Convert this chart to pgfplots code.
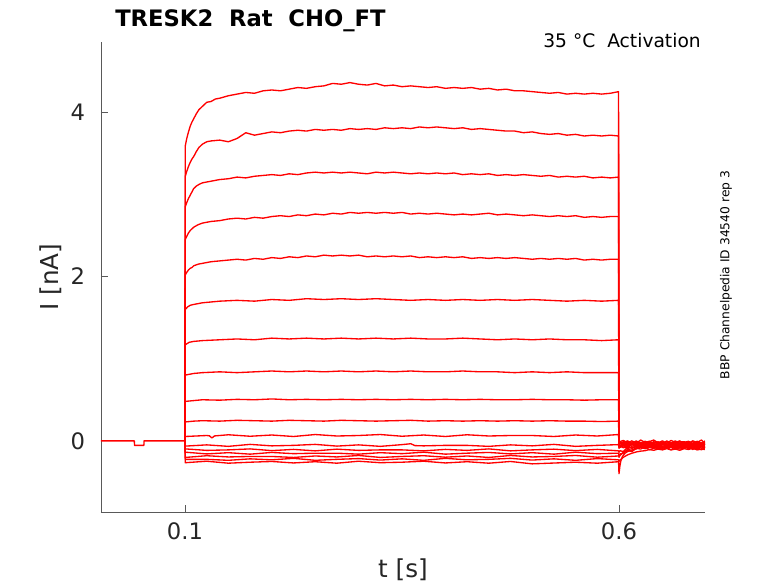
\documentclass[border=0pt]{standalone}
\usepackage{fontspec}
\setmainfont{DejaVu Sans}
\usepackage{pgfplots}
\pgfplotsset{compat=1.18}
\definecolor{axgray}{RGB}{38,38,38}
\begin{document}
\begin{tikzpicture}
\useasboundingbox (-75.75pt,-53.25pt) rectangle (507.75pt,384pt);
\begin{axis}[
  at={(0,0)}, anchor=south west,
  scale only axis, width=453pt, height=352.5pt,
  xmin=0.0032, xmax=0.6991, ymin=-0.866, ymax=4.854,
  axis x line*=bottom, axis y line*=left,
  axis line style={-, black!65, line width=0.6pt},
  xtick={0.1,0.6}, ytick={0,2,4},
  xticklabels={0.1,0.6},
  tick align=inside, major tick length=5.5pt,
  tick style={black!65, line width=0.6pt},
  /pgf/number format/assume math mode=true,
  ticklabel style={font=\fontsize{17}{19}\selectfont, text=axgray},
  xticklabel style={yshift=-4.8pt},
  yticklabel style={xshift=-8.5pt},
  xlabel={t [s]}, ylabel={I [nA]},
  label style={font=\fontsize{18.5}{20}\selectfont, text=axgray},
  xlabel style={at={(axis description cs:0.5,-0.1383)}, anchor=base},
  ylabel style={at={(axis description cs:-0.0706,0.5)}, anchor=base},
  every axis title shift=0pt,
  title={TRESK2\ \ Rat\ \ CHO\_FT},
  title style={at={(axis description cs:0.0232,1.0326)}, anchor=base west, inner xsep=0pt, font=\bfseries\fontsize{17}{19}\selectfont},
  tr/.style={red, line width=1pt, line join=round, mark=none},
]
% holding before the step
\addplot[tr] coordinates {(0.0032,0)(0.0416,0)(0.0418,-0.055)(0.0526,-0.055)(0.0528,0)(0.1,0)};
% T1
\addplot[tr] coordinates {(0.1,0)(0.1003,3.59)(0.102,3.68)(0.104,3.76)(0.106,3.83)(0.108,3.88)(0.11,3.92)(0.113,3.98)(0.116,4.03)(0.12,4.07)(0.125,4.12)(0.13,4.13)(0.135,4.16)(0.14,4.17)(0.15,4.20)(0.16,4.22)(0.17,4.24)(0.18,4.23)(0.19,4.26)(0.20,4.27)(0.21,4.26)(0.22,4.28)(0.23,4.30)(0.24,4.29)(0.25,4.31)(0.26,4.32)(0.27,4.35)(0.28,4.34)(0.29,4.36)(0.30,4.34)(0.31,4.33)(0.32,4.35)(0.33,4.32)(0.34,4.33)(0.35,4.31)(0.36,4.32)(0.37,4.31)(0.38,4.30)(0.39,4.31)(0.40,4.29)(0.41,4.30)(0.42,4.29)(0.43,4.30)(0.44,4.28)(0.45,4.29)(0.46,4.27)(0.47,4.28)(0.48,4.26)(0.49,4.26)(0.50,4.25)(0.51,4.24)(0.52,4.23)(0.53,4.24)(0.54,4.22)(0.55,4.23)(0.56,4.22)(0.57,4.23)(0.58,4.22)(0.59,4.23)(0.5995,4.25)
(0.6,-0.02)(0.601,-0.02)(0.605,-0.04)(0.61,-0.01)(0.615,-0.03)(0.62,0.0)(0.625,-0.04)(0.63,-0.02)(0.635,-0.005)(0.64,-0.035)(0.645,-0.01)(0.65,-0.04)(0.655,0.0)(0.66,-0.03)(0.665,-0.02)(0.67,0.0)(0.675,-0.035)(0.68,-0.01)(0.685,-0.04)(0.69,-0.005)(0.695,-0.03)(0.699,-0.02)};
% T2
\addplot[tr] coordinates {(0.1,0)(0.1003,3.22)(0.102,3.28)(0.104,3.34)(0.106,3.39)(0.108,3.43)(0.11,3.46)(0.113,3.52)(0.116,3.57)(0.12,3.61)(0.125,3.64)(0.13,3.65)(0.14,3.66)(0.15,3.64)(0.16,3.68)(0.17,3.75)(0.18,3.72)(0.19,3.74)(0.20,3.76)(0.21,3.75)(0.22,3.77)(0.23,3.78)(0.24,3.77)(0.25,3.79)(0.26,3.78)(0.27,3.79)(0.28,3.78)(0.29,3.80)(0.30,3.79)(0.31,3.80)(0.32,3.79)(0.33,3.81)(0.34,3.80)(0.35,3.81)(0.36,3.80)(0.37,3.82)(0.38,3.81)(0.39,3.82)(0.40,3.81)(0.41,3.80)(0.42,3.81)(0.43,3.79)(0.44,3.80)(0.45,3.79)(0.46,3.78)(0.47,3.77)(0.48,3.77)(0.49,3.75)(0.50,3.76)(0.51,3.74)(0.52,3.73)(0.53,3.74)(0.54,3.72)(0.55,3.73)(0.56,3.71)(0.57,3.72)(0.58,3.71)(0.59,3.72)(0.5995,3.71)
(0.6,-0.03)(0.601,-0.04)(0.605,-0.01)(0.61,-0.05)(0.615,-0.03)(0.62,-0.015)(0.625,-0.045)(0.63,-0.02)(0.635,-0.05)(0.64,-0.01)(0.645,-0.04)(0.65,-0.03)(0.655,-0.01)(0.66,-0.045)(0.665,-0.02)(0.67,-0.05)(0.675,-0.015)(0.68,-0.04)(0.685,-0.03)(0.69,-0.03)(0.695,-0.05)(0.699,-0.02)};
% T3
\addplot[tr] coordinates {(0.1,0)(0.1003,2.85)(0.102,2.90)(0.104,2.95)(0.106,2.99)(0.108,3.03)(0.11,3.07)(0.113,3.10)(0.116,3.12)(0.12,3.14)(0.125,3.15)(0.13,3.16)(0.14,3.18)(0.15,3.19)(0.16,3.21)(0.17,3.20)(0.18,3.22)(0.19,3.23)(0.20,3.24)(0.21,3.23)(0.22,3.25)(0.23,3.24)(0.24,3.26)(0.25,3.27)(0.26,3.26)(0.27,3.27)(0.28,3.26)(0.29,3.27)(0.30,3.26)(0.31,3.25)(0.32,3.27)(0.33,3.26)(0.34,3.27)(0.35,3.26)(0.36,3.25)(0.37,3.26)(0.38,3.25)(0.39,3.26)(0.40,3.25)(0.41,3.26)(0.42,3.24)(0.43,3.25)(0.44,3.24)(0.45,3.25)(0.46,3.23)(0.47,3.24)(0.48,3.23)(0.49,3.24)(0.50,3.23)(0.51,3.22)(0.52,3.23)(0.53,3.21)(0.54,3.22)(0.55,3.21)(0.56,3.22)(0.57,3.20)(0.58,3.21)(0.59,3.20)(0.5995,3.21)
(0.6,-0.01)(0.601,-0.01)(0.605,0.005)(0.61,-0.025)(0.615,0.0)(0.62,-0.03)(0.625,0.01)(0.63,-0.02)(0.635,-0.01)(0.64,0.01)(0.645,-0.025)(0.65,0.0)(0.655,-0.03)(0.66,0.005)(0.665,-0.02)(0.67,-0.01)(0.675,-0.01)(0.68,-0.03)(0.685,0.0)(0.69,-0.02)(0.695,0.01)(0.699,-0.03)};
% T4
\addplot[tr] coordinates {(0.1,0)(0.1003,2.45)(0.102,2.49)(0.104,2.53)(0.106,2.56)(0.108,2.58)(0.11,2.60)(0.115,2.63)(0.12,2.65)(0.13,2.67)(0.14,2.68)(0.15,2.70)(0.16,2.71)(0.17,2.70)(0.18,2.72)(0.19,2.71)(0.20,2.73)(0.21,2.74)(0.22,2.73)(0.23,2.75)(0.24,2.74)(0.25,2.76)(0.26,2.75)(0.27,2.77)(0.28,2.76)(0.29,2.78)(0.30,2.77)(0.31,2.78)(0.32,2.77)(0.33,2.78)(0.34,2.77)(0.35,2.78)(0.36,2.76)(0.37,2.77)(0.38,2.76)(0.39,2.77)(0.40,2.76)(0.41,2.75)(0.42,2.76)(0.43,2.75)(0.44,2.76)(0.45,2.77)(0.46,2.75)(0.47,2.76)(0.48,2.75)(0.49,2.74)(0.50,2.75)(0.51,2.74)(0.52,2.73)(0.53,2.74)(0.54,2.73)(0.55,2.74)(0.56,2.72)(0.57,2.73)(0.58,2.72)(0.59,2.73)(0.5995,2.73)
(0.6,-0.04)(0.601,-0.03)(0.605,-0.06)(0.61,-0.02)(0.615,-0.05)(0.62,-0.04)(0.625,-0.02)(0.63,-0.055)(0.635,-0.03)(0.64,-0.06)(0.645,-0.025)(0.65,-0.05)(0.655,-0.04)(0.66,-0.04)(0.665,-0.06)(0.67,-0.03)(0.675,-0.05)(0.68,-0.02)(0.685,-0.06)(0.69,-0.04)(0.695,-0.025)(0.699,-0.055)};
% T5
\addplot[tr] coordinates {(0.1,0)(0.1003,2.02)(0.102,2.05)(0.104,2.08)(0.106,2.10)(0.108,2.11)(0.11,2.13)(0.115,2.15)(0.12,2.16)(0.13,2.18)(0.14,2.19)(0.15,2.20)(0.16,2.21)(0.17,2.20)(0.18,2.22)(0.19,2.21)(0.20,2.23)(0.21,2.22)(0.22,2.24)(0.23,2.23)(0.24,2.25)(0.25,2.24)(0.26,2.26)(0.27,2.25)(0.28,2.26)(0.29,2.25)(0.30,2.26)(0.31,2.24)(0.32,2.25)(0.33,2.24)(0.34,2.25)(0.35,2.24)(0.36,2.25)(0.37,2.23)(0.38,2.24)(0.39,2.23)(0.40,2.24)(0.41,2.23)(0.42,2.24)(0.43,2.22)(0.44,2.23)(0.45,2.22)(0.46,2.23)(0.47,2.22)(0.48,2.23)(0.49,2.22)(0.50,2.21)(0.51,2.22)(0.52,2.21)(0.53,2.22)(0.54,2.21)(0.55,2.22)(0.56,2.20)(0.57,2.21)(0.58,2.20)(0.59,2.21)(0.5995,2.21)
(0.6,-0.02)(0.601,-0.03)(0.605,-0.02)(0.61,0.0)(0.615,-0.035)(0.62,-0.01)(0.625,-0.04)(0.63,-0.005)(0.635,-0.03)(0.64,-0.02)(0.645,-0.02)(0.65,-0.04)(0.655,-0.01)(0.66,-0.03)(0.665,0.0)(0.67,-0.04)(0.675,-0.02)(0.68,-0.005)(0.685,-0.035)(0.69,-0.01)(0.695,-0.04)(0.699,0.0)};
% T6
\addplot[tr] coordinates {(0.1,0)(0.1003,1.60)(0.103,1.63)(0.106,1.65)(0.11,1.66)(0.12,1.68)(0.13,1.69)(0.14,1.70)(0.16,1.71)(0.18,1.70)(0.20,1.72)(0.22,1.71)(0.24,1.73)(0.26,1.72)(0.28,1.73)(0.30,1.72)(0.32,1.73)(0.34,1.72)(0.36,1.71)(0.38,1.72)(0.40,1.71)(0.42,1.72)(0.44,1.71)(0.46,1.72)(0.48,1.71)(0.50,1.72)(0.52,1.71)(0.54,1.70)(0.56,1.71)(0.58,1.70)(0.5995,1.71)
(0.6,-0.05)(0.601,-0.065)(0.605,-0.04)(0.61,-0.07)(0.615,-0.035)(0.62,-0.06)(0.625,-0.05)(0.63,-0.05)(0.635,-0.07)(0.64,-0.04)(0.645,-0.06)(0.65,-0.03)(0.655,-0.07)(0.66,-0.05)(0.665,-0.035)(0.67,-0.065)(0.675,-0.04)(0.68,-0.07)(0.685,-0.03)(0.69,-0.06)(0.695,-0.05)(0.699,-0.03)};
% T7
\addplot[tr] coordinates {(0.1,0)(0.1003,1.17)(0.105,1.20)(0.11,1.21)(0.12,1.22)(0.14,1.23)(0.16,1.24)(0.18,1.23)(0.20,1.25)(0.22,1.24)(0.24,1.25)(0.26,1.24)(0.28,1.25)(0.30,1.24)(0.32,1.25)(0.34,1.24)(0.36,1.25)(0.38,1.24)(0.40,1.24)(0.42,1.25)(0.44,1.24)(0.46,1.23)(0.48,1.24)(0.50,1.23)(0.52,1.24)(0.54,1.23)(0.56,1.23)(0.58,1.22)(0.5995,1.23)
(0.6,-0.03)(0.601,-0.015)(0.605,-0.04)(0.61,-0.03)(0.615,-0.03)(0.62,-0.05)(0.625,-0.02)(0.63,-0.04)(0.635,-0.01)(0.64,-0.05)(0.645,-0.03)(0.65,-0.015)(0.655,-0.045)(0.66,-0.02)(0.665,-0.05)(0.67,-0.01)(0.675,-0.04)(0.68,-0.03)(0.685,-0.01)(0.69,-0.045)(0.695,-0.02)(0.699,-0.05)};
% T8
\addplot[tr] coordinates {(0.1,0)(0.1003,0.80)(0.105,0.81)(0.11,0.82)(0.12,0.83)(0.14,0.84)(0.16,0.83)(0.18,0.84)(0.20,0.85)(0.22,0.84)(0.24,0.85)(0.26,0.84)(0.28,0.85)(0.30,0.84)(0.32,0.85)(0.34,0.84)(0.36,0.85)(0.38,0.84)(0.40,0.84)(0.42,0.85)(0.44,0.84)(0.46,0.84)(0.48,0.83)(0.50,0.84)(0.52,0.83)(0.54,0.84)(0.56,0.83)(0.58,0.83)(0.5995,0.83)
(0.6,-0.06)(0.601,-0.08)(0.605,-0.05)(0.61,-0.07)(0.615,-0.04)(0.62,-0.08)(0.625,-0.06)(0.63,-0.045)(0.635,-0.075)(0.64,-0.05)(0.645,-0.08)(0.65,-0.04)(0.655,-0.07)(0.66,-0.06)(0.665,-0.04)(0.67,-0.075)(0.675,-0.05)(0.68,-0.08)(0.685,-0.045)(0.69,-0.07)(0.695,-0.06)(0.699,-0.06)};
% T9
\addplot[tr] coordinates {(0.1,0)(0.1003,0.48)(0.11,0.49)(0.12,0.50)(0.14,0.495)(0.16,0.505)(0.18,0.50)(0.20,0.51)(0.22,0.50)(0.24,0.505)(0.26,0.50)(0.28,0.505)(0.30,0.50)(0.32,0.505)(0.34,0.50)(0.36,0.505)(0.38,0.50)(0.40,0.505)(0.42,0.50)(0.44,0.505)(0.46,0.50)(0.48,0.50)(0.50,0.505)(0.52,0.50)(0.54,0.50)(0.56,0.495)(0.58,0.50)(0.5995,0.50)
(0.6,-0.04)(0.601,-0.02)(0.605,-0.06)(0.61,-0.04)(0.615,-0.025)(0.62,-0.055)(0.625,-0.03)(0.63,-0.06)(0.635,-0.02)(0.64,-0.05)(0.645,-0.04)(0.65,-0.02)(0.655,-0.055)(0.66,-0.03)(0.665,-0.06)(0.67,-0.025)(0.675,-0.05)(0.68,-0.04)(0.685,-0.04)(0.69,-0.06)(0.695,-0.03)(0.699,-0.05)};
% T10
\addplot[tr] coordinates {(0.1,0)(0.1003,0.23)(0.11,0.24)(0.12,0.245)(0.14,0.24)(0.16,0.25)(0.18,0.245)(0.20,0.24)(0.22,0.25)(0.24,0.245)(0.26,0.24)(0.28,0.25)(0.30,0.245)(0.32,0.24)(0.34,0.245)(0.36,0.25)(0.38,0.24)(0.40,0.245)(0.42,0.24)(0.44,0.245)(0.46,0.24)(0.48,0.245)(0.50,0.24)(0.52,0.245)(0.54,0.24)(0.56,0.24)(0.58,0.235)(0.5995,0.24)
(0.6,-0.07)(0.601,-0.055)(0.605,-0.085)(0.61,-0.06)(0.615,-0.09)(0.62,-0.05)(0.625,-0.08)(0.63,-0.07)(0.635,-0.05)(0.64,-0.085)(0.645,-0.06)(0.65,-0.09)(0.655,-0.055)(0.66,-0.08)(0.665,-0.07)(0.67,-0.07)(0.675,-0.09)(0.68,-0.06)(0.685,-0.08)(0.69,-0.05)(0.695,-0.09)(0.699,-0.07)};
% T11
\addplot[tr] coordinates {(0.1,0)(0.1003,0.053)(0.125,0.065)(0.128,0.062)(0.131,0.035)(0.134,0.06)(0.15,0.074)(0.175,0.056)(0.2,0.071)(0.225,0.053)(0.25,0.077)(0.275,0.059)(0.3,0.065)(0.325,0.077)(0.35,0.056)(0.375,0.071)(0.4,0.053)(0.425,0.074)(0.45,0.059)(0.475,0.065)(0.5,0.065)(0.525,0.053)(0.55,0.071)(0.575,0.059)(0.5995,0.077)
(0.6,-0.06)(0.601,-0.07)(0.605,-0.03)(0.61,-0.06)(0.615,-0.05)(0.62,-0.03)(0.625,-0.065)(0.63,-0.04)(0.635,-0.07)(0.64,-0.035)(0.645,-0.06)(0.65,-0.05)(0.655,-0.05)(0.66,-0.07)(0.665,-0.04)(0.67,-0.06)(0.675,-0.03)(0.68,-0.07)(0.685,-0.05)(0.69,-0.035)(0.695,-0.065)(0.699,-0.04)};
% T12
\addplot[tr] coordinates {(0.1,0)(0.1003,-0.064)(0.125,-0.049)(0.15,-0.067)(0.175,-0.043)(0.2,-0.061)(0.225,-0.055)(0.25,-0.043)(0.275,-0.064)(0.3,-0.049)(0.325,-0.067)(0.35,-0.046)(0.36,-0.035)(0.365,-0.058)(0.375,-0.061)(0.4,-0.055)(0.425,-0.055)(0.45,-0.067)(0.475,-0.049)(0.5,-0.061)(0.525,-0.043)(0.55,-0.067)(0.575,-0.055)(0.5995,-0.046)
(0.6,-0.09)(0.601,-0.08)(0.605,-0.06)(0.61,-0.095)(0.615,-0.07)(0.62,-0.10)(0.625,-0.065)(0.63,-0.09)(0.635,-0.08)(0.64,-0.08)(0.645,-0.10)(0.65,-0.07)(0.655,-0.09)(0.66,-0.06)(0.665,-0.10)(0.67,-0.08)(0.675,-0.065)(0.68,-0.095)(0.685,-0.07)(0.69,-0.10)(0.695,-0.06)(0.699,-0.09)};
% T13
\addplot[tr] coordinates {(0.1,0)(0.1003,-0.098)(0.125,-0.116)(0.15,-0.11)(0.175,-0.098)(0.2,-0.119)(0.225,-0.104)(0.25,-0.122)(0.275,-0.101)(0.3,-0.116)(0.325,-0.11)(0.35,-0.11)(0.375,-0.122)(0.4,-0.104)(0.425,-0.116)(0.45,-0.098)(0.475,-0.122)(0.5,-0.11)(0.525,-0.101)(0.55,-0.119)(0.575,-0.104)(0.5995,-0.122)
(0.6,-0.14)(0.601,-0.12)(0.605,-0.13)(0.61,-0.075)(0.615,-0.09)(0.62,-0.07)(0.625,-0.06)(0.63,-0.08)(0.635,-0.05)(0.64,-0.07)(0.645,-0.04)(0.65,-0.08)(0.655,-0.06)(0.66,-0.045)(0.665,-0.075)(0.67,-0.05)(0.675,-0.08)(0.68,-0.04)(0.685,-0.07)(0.69,-0.06)(0.695,-0.04)(0.699,-0.075)};
% T14
\addplot[tr] coordinates {(0.1,0)(0.1003,-0.138)(0.125,-0.159)(0.15,-0.144)(0.175,-0.162)(0.2,-0.141)(0.225,-0.156)(0.25,-0.15)(0.275,-0.15)(0.3,-0.162)(0.325,-0.144)(0.35,-0.156)(0.375,-0.138)(0.4,-0.162)(0.425,-0.15)(0.45,-0.141)(0.475,-0.159)(0.5,-0.144)(0.525,-0.162)(0.55,-0.138)(0.575,-0.156)(0.5995,-0.15)
(0.6,-0.20)(0.601,-0.18)(0.605,-0.14)(0.61,-0.12)(0.615,-0.13)(0.62,-0.09)(0.625,-0.10)(0.63,-0.07)(0.635,-0.11)(0.64,-0.09)(0.645,-0.075)(0.65,-0.105)(0.655,-0.08)(0.66,-0.11)(0.665,-0.07)(0.67,-0.10)(0.675,-0.09)(0.68,-0.07)(0.685,-0.105)(0.69,-0.08)(0.695,-0.11)(0.699,-0.075)};
% T15
\addplot[tr] coordinates {(0.1,0)(0.1003,-0.202)(0.125,-0.181)(0.15,-0.196)(0.175,-0.19)(0.2,-0.19)(0.225,-0.202)(0.25,-0.184)(0.275,-0.196)(0.3,-0.178)(0.325,-0.202)(0.35,-0.19)(0.375,-0.181)(0.4,-0.199)(0.425,-0.184)(0.45,-0.202)(0.475,-0.178)(0.5,-0.196)(0.525,-0.19)(0.55,-0.178)(0.575,-0.199)(0.5995,-0.184)
(0.6,-0.18)(0.601,-0.16)(0.605,-0.15)(0.61,-0.10)(0.615,-0.12)(0.62,-0.09)(0.625,-0.065)(0.63,-0.085)(0.635,-0.06)(0.64,-0.09)(0.645,-0.05)(0.65,-0.08)(0.655,-0.07)(0.66,-0.05)(0.665,-0.085)(0.67,-0.06)(0.675,-0.09)(0.68,-0.055)(0.685,-0.08)(0.69,-0.07)(0.695,-0.07)(0.699,-0.09)};
% T16
\addplot[tr] coordinates {(0.1,0)(0.1003,-0.225)(0.125,-0.225)(0.15,-0.237)(0.175,-0.219)(0.2,-0.231)(0.225,-0.213)(0.25,-0.237)(0.275,-0.225)(0.3,-0.216)(0.325,-0.234)(0.35,-0.219)(0.375,-0.237)(0.4,-0.213)(0.425,-0.231)(0.45,-0.225)(0.475,-0.213)(0.5,-0.234)(0.525,-0.219)(0.55,-0.237)(0.575,-0.216)(0.5995,-0.231)
(0.6,-0.25)(0.601,-0.235)(0.605,-0.20)(0.61,-0.17)(0.615,-0.15)(0.62,-0.135)(0.625,-0.125)(0.63,-0.12)(0.635,-0.105)(0.64,-0.115)(0.645,-0.10)(0.65,-0.11)(0.655,-0.095)(0.66,-0.11)(0.665,-0.10)(0.67,-0.115)(0.675,-0.095)(0.68,-0.105)(0.685,-0.09)(0.69,-0.11)(0.695,-0.10)(0.699,-0.105)};
% T17
\addplot[tr] coordinates {(0.1,0)(0.1003,-0.266)(0.125,-0.248)(0.15,-0.272)(0.175,-0.26)(0.2,-0.251)(0.225,-0.269)(0.25,-0.254)(0.275,-0.272)(0.3,-0.248)(0.325,-0.266)(0.35,-0.26)(0.375,-0.248)(0.4,-0.269)(0.425,-0.254)(0.45,-0.272)(0.475,-0.251)(0.5,-0.28)(0.525,-0.27)(0.55,-0.26)(0.575,-0.272)(0.5995,-0.254)
(0.6,-0.40)(0.6005,-0.36)(0.601,-0.31)(0.602,-0.25)(0.604,-0.19)(0.607,-0.15)(0.61,-0.13)(0.615,-0.11)(0.62,-0.09)(0.625,-0.08)(0.63,-0.095)(0.635,-0.07)(0.64,-0.085)(0.645,-0.065)(0.65,-0.09)(0.655,-0.07)(0.66,-0.08)(0.665,-0.06)(0.67,-0.085)(0.675,-0.07)(0.68,-0.09)(0.685,-0.065)(0.69,-0.08)(0.695,-0.07)(0.699,-0.08)};
\end{axis}
\node[anchor=base east, inner sep=0pt, font=\fontsize{14}{16}\selectfont, text=black] at (450pt,348.2pt) {35 °C\ \ Activation};
\node[rotate=90, anchor=center, font=\fontsize{9.2}{11}\selectfont, text=black] at (468.75pt,177.75pt) {BBP Channelpedia ID 34540 rep 3};
\end{tikzpicture}
\end{document}
